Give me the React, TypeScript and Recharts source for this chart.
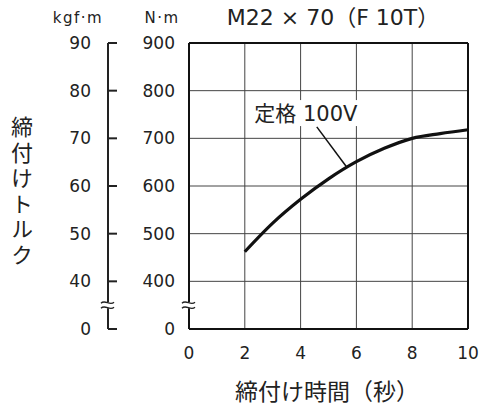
import React from 'react';
import { LineChart, Line, XAxis, YAxis, CartesianGrid, ReferenceLine, ReferenceDot } from 'recharts';

const seconds = [2, 3, 4, 5, 6, 7, 8, 9, 10];
const torqueNm = [462, 522, 572, 615, 651, 679, 700, 710, 718];
const xTicks = [0, 2, 4, 6, 8, 10];
const nmTicks = [300, 350, 400, 500, 600, 700, 800, 900];
const kgfTicks = [30, 35, 40, 50, 60, 70, 80, 90];
const gridX = [2, 4, 6, 8];
const gridY = [400, 500, 600, 700, 800];

const data = seconds.map((s, i) => ({ s, nm: torqueNm[i] }));

const NM = 'a_nm';
const KGF = 'b_kgf';

const NUM_FONT = "'DejaVu Sans', 'Noto Sans CJK JP', sans-serif";
const JP_FONT = "'Noto Sans CJK JP', sans-serif";
const TXT = '#222';

const BreakMark = ({ x, y }: { x: number; y: number }) => (
  <g>
    <rect x={x - 4} y={y - 3} width={8} height={6} fill="#fff" />
    <path d={`M${x - 7},${y - 2} C${x - 3},${y - 6} ${x + 2},${y + 1} ${x + 6},${y - 3}`} stroke="#222" strokeWidth={1.3} fill="none" />
    <path d={`M${x - 7},${y + 3} C${x - 3},${y - 1} ${x + 2},${y + 6} ${x + 6},${y + 2}`} stroke="#222" strokeWidth={1.3} fill="none" />
  </g>
);

const NmTick = (props: any) => {
  const { x, y, payload } = props;
  if (payload.value === 350) return <BreakMark x={x} y={y} />;
  const label = payload.value === 300 ? '0' : String(payload.value);
  return (
    <text x={x - 14} y={y} dy="0.36em" textAnchor="end" fontSize={17} fontFamily={NUM_FONT} fill={TXT}>
      {label}
    </text>
  );
};

const KgfTick = (props: any) => {
  const { x, y, payload } = props;
  if (payload.value === 35) return <BreakMark x={x} y={y} />;
  const label = payload.value === 30 ? '0' : String(payload.value);
  return (
    <g>
      <line x1={x} x2={x + 9} y1={y} y2={y} stroke="#222" strokeWidth={2} />
      <text x={x - 17} y={y} dy="0.36em" textAnchor="end" fontSize={17} fontFamily={NUM_FONT} fill={TXT}>
        {label}
      </text>
    </g>
  );
};

const XTick = (props: any) => {
  const { x, y, payload } = props;
  return (
    <text x={x} y={y + 24} dy="0.36em" textAnchor="middle" fontSize={17} fontFamily={NUM_FONT} fill={TXT}>
      {payload.value}
    </text>
  );
};

const AnnotationShape = (props: any) => {
  const { cx, cy } = props;
  return (
    <g>
      <rect x={cx - 55} y={cy - 13} width={110} height={26} fill="#fff" />
      <text x={cx} y={cy} dy="0.36em" textAnchor="middle" fontSize={21} fontFamily={NUM_FONT} fill={TXT}>
        定格 100V
      </text>
    </g>
  );
};

export default function App() {
  return (
    <div style={{ position: 'absolute', left: 0, top: 0, width: 487, height: 406, background: '#fff' }}>
      <LineChart width={487} height={406} data={data} margin={{ top: 43, right: 19, bottom: 0, left: 0 }}>
        <CartesianGrid
          yAxisId={NM}
          stroke="#444"
          strokeWidth={1}
          horizontalValues={gridY}
          verticalValues={gridX}
        />
        <XAxis
          dataKey="s"
          type="number"
          domain={[0, 10]}
          ticks={xTicks}
          tickLine={false}
          tickSize={0}
          tickMargin={0}
          axisLine={{ stroke: '#111', strokeWidth: 2 }}
          tick={<XTick />}
          height={77}
        />
        <YAxis
          yAxisId={NM}
          orientation="left"
          type="number"
          domain={[300, 900]}
          allowDataOverflow={true}
          ticks={nmTicks}
          width={81}
          tickLine={false}
          tickSize={0}
          tickMargin={0}
          axisLine={{ stroke: '#111', strokeWidth: 2 }}
          tick={<NmTick />}
          interval={0}
        />
        <YAxis
          yAxisId={KGF}
          orientation="left"
          type="number"
          domain={[30, 90]}
          allowDataOverflow={true}
          ticks={kgfTicks}
          width={108}
          tickLine={false}
          tickSize={0}
          tickMargin={0}
          axisLine={{ stroke: '#222', strokeWidth: 2 }}
          tick={<KgfTick />}
          interval={0}
        />
        <ReferenceLine yAxisId={NM} y={900} stroke="#111" strokeWidth={2} />
        <ReferenceLine yAxisId={NM} x={10} stroke="#111" strokeWidth={2} />
        <ReferenceDot yAxisId={NM} x={4.19} y={753} r={0} shape={<AnnotationShape />} />
        <ReferenceLine
          yAxisId={NM}
          segment={[{ x: 4.58, y: 724 }, { x: 5.65, y: 640 }]}
          stroke="#111"
          strokeWidth={1.5}
        />
        <Line
          yAxisId={NM}
          type="monotone"
          dataKey="nm"
          stroke="#111"
          strokeWidth={3.2}
          dot={false}
          isAnimationActive={false}
        />
      </LineChart>
      <svg width={487} height={406} style={{ position: 'absolute', left: 0, top: 0, pointerEvents: 'none' }}>
        <text x={78} y={18} dy="0.36em" textAnchor="middle" fontSize={15} letterSpacing={1.5} fontFamily={NUM_FONT} fill={TXT}>
          kgf·m
        </text>
        <text x={162} y={18} dy="0.36em" textAnchor="middle" fontSize={15} letterSpacing={1.5} fontFamily={NUM_FONT} fill={TXT}>
          N·m
        </text>
        <text x={333} y={17} dy="0.36em" textAnchor="middle" fontSize={22} fontFamily={NUM_FONT} fill={TXT}>
          M22 × 70（F 10T）
        </text>
        <text
          x={22}
          y={116}
          style={{ writingMode: 'vertical-rl' }}
          fontSize={22}
          letterSpacing={3.5}
          fontFamily={JP_FONT}
          fill={TXT}
        >
          締付けトルク
        </text>
        <text x={327} y={392} dy="0.36em" textAnchor="middle" fontSize={23} fontFamily={JP_FONT} fill={TXT}>
          締付け時間（秒）
        </text>
      </svg>
    </div>
  );
}
